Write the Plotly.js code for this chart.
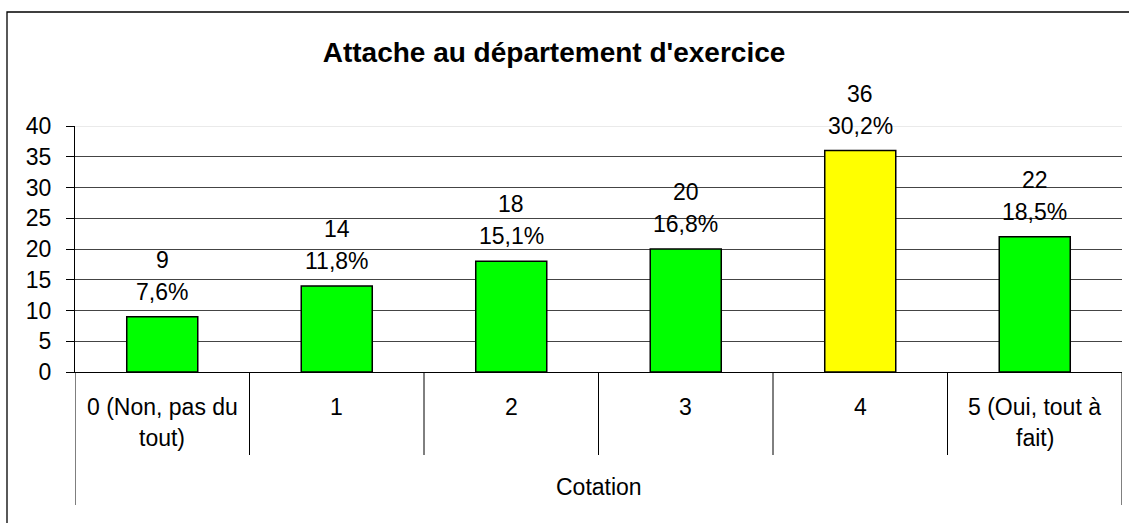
<!DOCTYPE html>
<html>
<head>
<meta charset="utf-8">
<script src="https://cdn.plot.ly/plotly-3.0.1.min.js"></script>
<style>html,body{margin:0;padding:0;background:#fff;}#chart{width:1129px;height:523px;}</style>
</head>
<body>
<div id="chart"></div>
<script>
// Data
const categories = ["0 (Non, pas du tout)", "1", "2", "3", "4", "5 (Oui, tout à fait)"];
const categoryLines = [["0 (Non, pas du", "tout)"], ["1"], ["2"], ["3"], ["4"], ["5 (Oui, tout à", "fait)"]];
const counts = [9, 14, 18, 20, 36, 22];
const percents = ["7,6%", "11,8%", "15,1%", "16,8%", "30,2%", "18,5%"];
const barColors = ["#00FF00", "#00FF00", "#00FF00", "#00FF00", "#FFFF00", "#00FF00"];
const yTicks = [0, 5, 10, 15, 20, 25, 30, 35, 40];
const chartTitle = "Attache au département d'exercice";
const xTitle = "Cotation";

const FONT = "Liberation Sans, Arial, sans-serif";
const FS = 23;
const plotL = 75, plotR = 1122, plotT = 126, plotB = 372, W = 1129, H = 523;
const pw = plotR - plotL, ph = plotB - plotT;
const px = v => (v - plotL) / pw;
const py = v => (plotB - v) / ph;

const annotations = [];
counts.forEach((c, i) => {
  annotations.push({x: categories[i], y: c, xref: 'x', yref: 'y', text: percents[i],
    showarrow: false, yanchor: 'middle', xanchor: 'center', yshift: 25,
    font: {family: FONT, size: FS, color: '#000'}});
  annotations.push({x: categories[i], y: c, xref: 'x', yref: 'y', text: String(c),
    showarrow: false, yanchor: 'middle', xanchor: 'center', yshift: 57,
    font: {family: FONT, size: FS, color: '#000'}});
});
categoryLines.forEach((lines, i) => {
  lines.forEach((t, j) => {
    annotations.push({x: categories[i], y: 0, xref: 'x', yref: 'paper', text: t,
      showarrow: false, yanchor: 'middle', xanchor: 'center', yshift: -35 - 31 * j,
      font: {family: FONT, size: FS, color: '#000'}});
  });
});
annotations.push({x: 0.5, y: 0, xref: 'paper', yref: 'paper', text: xTitle,
  showarrow: false, yanchor: 'middle', xanchor: 'center', yshift: -115,
  font: {family: FONT, size: FS, color: '#000'}});

const shapes = [];
// category separators
for (let i = 0; i <= categories.length; i++) {
  const outer = (i === 0 || i === categories.length);
  shapes.push({type: 'line', xref: 'x', yref: 'paper', ysizemode: 'pixel', yanchor: 0,
    x0: i - 0.5, x1: i - 0.5, y0: 0, y1: outer ? -133 : -83,
    line: {color: '#000', width: 1}});
}
// light top line at 40
shapes.push({type: 'line', xref: 'paper', yref: 'y', x0: 0, x1: 1, y0: 40, y1: 40,
  line: {color: '#e3e3e3', width: 1.5}, layer: 'above'});
// outer chart frame
shapes.push({type: 'rect', xref: 'paper', yref: 'paper',
  x0: px(7), x1: px(1140), y0: py(12), y1: py(540),
  line: {color: '#000', width: 1.3}, fillcolor: 'rgba(0,0,0,0)'});

const trace = {
  type: 'bar', x: categories, y: counts,
  marker: {color: barColors, line: {color: '#000', width: 1.5}},
  hoverinfo: 'skip'
};

const layout = {
  width: W, height: H,
  margin: {l: plotL, r: W - plotR, t: plotT, b: H - plotB, pad: 0},
  paper_bgcolor: '#fff', plot_bgcolor: '#fff',
  showlegend: false,
  bargap: 0.593,
  title: {text: '<b>' + chartTitle + '</b>', x: 554 / W, xref: 'container', xanchor: 'center',
    y: 1 - 52 / H, yref: 'container', yanchor: 'middle',
    font: {family: FONT, size: 28, color: '#000'}},
  xaxis: {type: 'category', range: [-0.5, categories.length - 0.5],
    showticklabels: false, ticks: '', showgrid: false, zeroline: false,
    showline: true, linecolor: '#000', linewidth: 1, fixedrange: true},
  yaxis: {range: [0, 40], tickvals: yTicks, ticktext: yTicks.map(String),
    ticks: 'outside', ticklen: 8, tickcolor: '#000', tickwidth: 1,
    ticklabelstandoff: 10,
    showgrid: true, gridcolor: '#444', gridwidth: 1, zeroline: false,
    showline: true, linecolor: '#000', linewidth: 1,
    tickfont: {family: FONT, size: FS, color: '#000'}, fixedrange: true},
  annotations: annotations,
  shapes: shapes
};

Plotly.newPlot('chart', [trace], layout, {displayModeBar: false, staticPlot: true});
</script>
</body>
</html>
